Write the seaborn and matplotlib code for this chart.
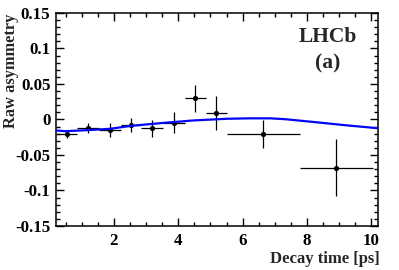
import matplotlib
matplotlib.use("Agg")
import matplotlib.pyplot as plt
from matplotlib.ticker import MultipleLocator
import seaborn as sns
import numpy as np
import pandas as pd

# ---- data ----
bin_edges = [0.22, 0.85, 1.52, 2.21, 2.85, 3.52, 4.20, 4.85, 5.52, 7.77, 10.05]
asym      = [-0.020, -0.0117, -0.0145, -0.008, -0.0127, -0.0046, 0.030, 0.0085, -0.0207, -0.068]
asym_err  = [0.0055, 0.007, 0.0095, 0.0097, 0.012, 0.015, 0.019, 0.024, 0.020, 0.040]

fit_t     = [0.2, 0.48, 1.20, 1.88, 2.55, 3.59, 4.46, 5.51, 6.20, 6.86, 7.32, 8.26, 9.28, 10.2]
fit_a     = [-0.0155, -0.0165, -0.0150, -0.0131, -0.0089, -0.0046, -0.0014, 0.0010, 0.0016, 0.0016, 0.0004, -0.0038, -0.0085, -0.0123]

x_ticks   = [2, 4, 6, 8, 10]
y_ticks   = [-0.15, -0.1, -0.05, 0, 0.05, 0.1, 0.15]
y_tick_labels = ["-0.15", "-0.1", "-0.05", "0", "0.05", "0.1", "0.15"]

lo = np.array(bin_edges[:-1]); hi = np.array(bin_edges[1:])
centers = (lo + hi) / 2
half = (hi - lo) / 2
pts = pd.DataFrame({"t": centers, "a": asym})
fit = pd.DataFrame({"t": fit_t, "a": fit_a})

sns.set_theme(style="white")
plt.rcParams["font.family"] = ["Liberation Serif", "DejaVu Serif"]
plt.rcParams["font.weight"] = "bold"

fig = plt.figure(figsize=(3.99, 2.70), dpi=100)
ax = fig.add_axes([0.1404, 0.163, 0.947 - 0.1404, 0.952 - 0.163])

ax.errorbar(centers, asym, xerr=half, yerr=asym_err, fmt="none",
            ecolor="black", elinewidth=0.9, capsize=0, zorder=3)
sns.scatterplot(data=pts, x="t", y="a", ax=ax, color="black", marker="o",
                s=14, edgecolor="black", linewidth=0, zorder=4)
sns.lineplot(data=fit, x="t", y="a", ax=ax, color="#0505f5", linewidth=1.6,
             zorder=5)

ax.set_xlim(0.2, 10.2)
ax.set_ylim(-0.15, 0.15)
ax.set_xticks(x_ticks)
ax.set_xticklabels([str(v) for v in x_ticks])
ax.set_yticks(y_ticks)
ax.set_yticklabels(y_tick_labels)
ax.xaxis.set_minor_locator(MultipleLocator(0.5))
ax.yaxis.set_minor_locator(MultipleLocator(0.01))
ax.tick_params(which="both", direction="in", top=True, right=True,
               bottom=True, left=True, labelsize=12.2, colors="black")
ax.tick_params(which="major", length=6, width=1.0, pad=5)
ax.tick_params(which="minor", length=3.2, width=1.0)
ax.tick_params(axis="y", which="major", pad=4)
for lab in ax.get_xticklabels() + ax.get_yticklabels():
    lab.set_fontweight("bold")
for sp in ax.spines.values():
    sp.set_linewidth(1.1)
    sp.set_color("black")

ax.set_xlabel("Decay time [ps]", fontsize=12, fontweight="bold", loc="right")
ax.xaxis.set_label_coords(1.006, -0.118)
ax.xaxis.label.set_va("top")
ax.set_ylabel("Raw asymmetry", fontsize=11.8, fontweight="bold", loc="top")
ax.yaxis.set_label_coords(-0.115, 0.995)

ax.text(0.845, 0.887, "LHCb", transform=ax.transAxes, fontsize=15.5,
        fontweight="bold", ha="center", va="center")
ax.text(0.843, 0.765, "(a)", transform=ax.transAxes, fontsize=15.5,
        fontweight="bold", ha="center", va="center")
ax.grid(False)

fig.savefig("out.png", dpi=100)
